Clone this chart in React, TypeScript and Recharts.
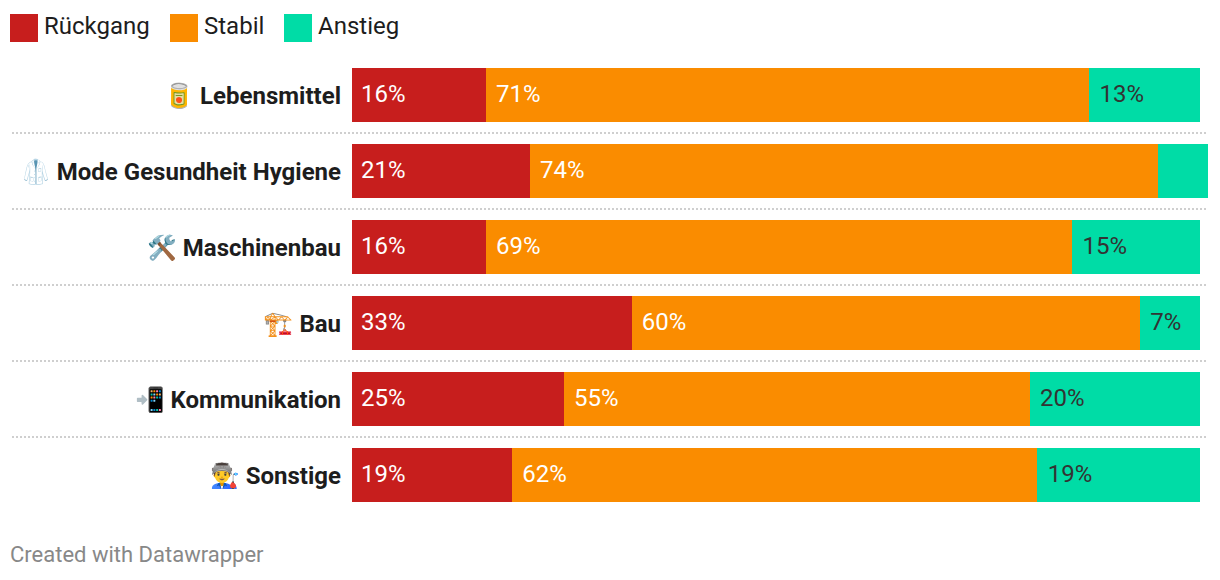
import React from "react";
import { BarChart, Bar, XAxis, YAxis, Legend, LabelList } from "recharts";

const categories = ["Lebensmittel", "Mode Gesundheit Hygiene", "Maschinenbau", "Bau", "Kommunikation", "Sonstige"];
const emojis = ["🥫", "🥼", "🛠️", "🏗️", "📲", "👨‍🏭"];
const rueckgang = [15.8, 21, 15.8, 33, 25, 18.9];
const stabil = [71.1, 74, 69.1, 59.9, 54.9, 61.9];
const anstieg = [13.1, 5.9, 15.1, 7.1, 20.1, 19.2];
const seriesNames = ["Rückgang", "Stabil", "Anstieg"];
const seriesKeys = ["rueckgang", "stabil", "anstieg"];
const seriesColors = ["#c71e1d", "#fa8c00", "#00dca6"];
const labelColors = ["#ffffff", "#ffffff", "#333333"];
const labelOffsets = [9, 10, 10.5];
const footer = "Created with Datawrapper";

const data = categories.map((name, i) => ({
  name,
  emoji: emojis[i],
  rueckgang: rueckgang[i],
  stabil: stabil[i],
  anstieg: anstieg[i],
}));

const FONT = "Roboto, sans-serif";

function CategoryTick(props: any) {
  const { y, payload, index } = props;
  const last = index === categories.length - 1;
  return (
    <g>
      <text x={341} y={y + 9} textAnchor="end" fontFamily={FONT} fontSize={24} fontWeight={700} fill="#1d1d1d">
        <tspan fontWeight={400} fontSize={24}>{emojis[index]}</tspan>
        <tspan dx={6}>{payload.value}</tspan>
      </text>
      {!last && (
        <line x1={12} x2={1208} y1={y + 38} y2={y + 38} stroke="#cfcfcf" strokeWidth={2} strokeDasharray="2 2" />
      )}
    </g>
  );
}

function makeLabel(color: string, offset: number) {
  return function ValueLabel(props: any) {
    const { x, y, height, value } = props;
    if (value < 6.5) return null;
    return (
      <text x={x + offset} y={y + height / 2 + 7} fontFamily={FONT} fontSize={24} fill={color}>
        {Math.round(value)}%
      </text>
    );
  };
}

function LegendContent() {
  const squareX = [10, 170, 284];
  return (
    <div style={{ position: "relative", width: 600, height: 56 }}>
      {seriesNames.map((n, i) => (
        <React.Fragment key={n}>
          <div style={{ position: "absolute", left: squareX[i], top: 14, width: 28, height: 28, background: seriesColors[i] }} />
          <div style={{ position: "absolute", left: squareX[i] + 34, top: 12, fontFamily: FONT, fontSize: 24, lineHeight: "28px", color: "#1d1d1d", whiteSpace: "nowrap" }}>
            {n}
          </div>
        </React.Fragment>
      ))}
    </div>
  );
}

export default function App() {
  return (
    <div style={{ position: "absolute", left: 0, top: 0, width: 1220, height: 580, background: "#fff" }}>
      <BarChart
        width={1220}
        height={580}
        data={data}
        layout="vertical"
        margin={{ top: 57, right: 11.52, bottom: 67, left: 0 }}
        barSize={54}
      >
        <XAxis type="number" domain={[0, 101]} hide />
        <YAxis type="category" dataKey="name" width={352} axisLine={false} tickLine={false} tick={CategoryTick} interval={0} />
        <Legend
          content={LegendContent}
          verticalAlign="middle"
          align="center"
          wrapperStyle={{ position: "absolute", left: 0, top: 0, width: 600, height: 56 }}
        />
        {seriesKeys.map((k, i) => (
          <Bar key={k} dataKey={k} name={seriesNames[i]} stackId="a" fill={seriesColors[i]} shapeRendering="crispEdges" isAnimationActive={false}>
            <LabelList dataKey={k} content={makeLabel(labelColors[i], labelOffsets[i])} />
          </Bar>
        ))}
      </BarChart>
      <div style={{ position: "absolute", left: 10, top: 542, fontFamily: FONT, fontSize: 22, lineHeight: "25px", color: "#888888" }}>
        {footer}
      </div>
    </div>
  );
}
